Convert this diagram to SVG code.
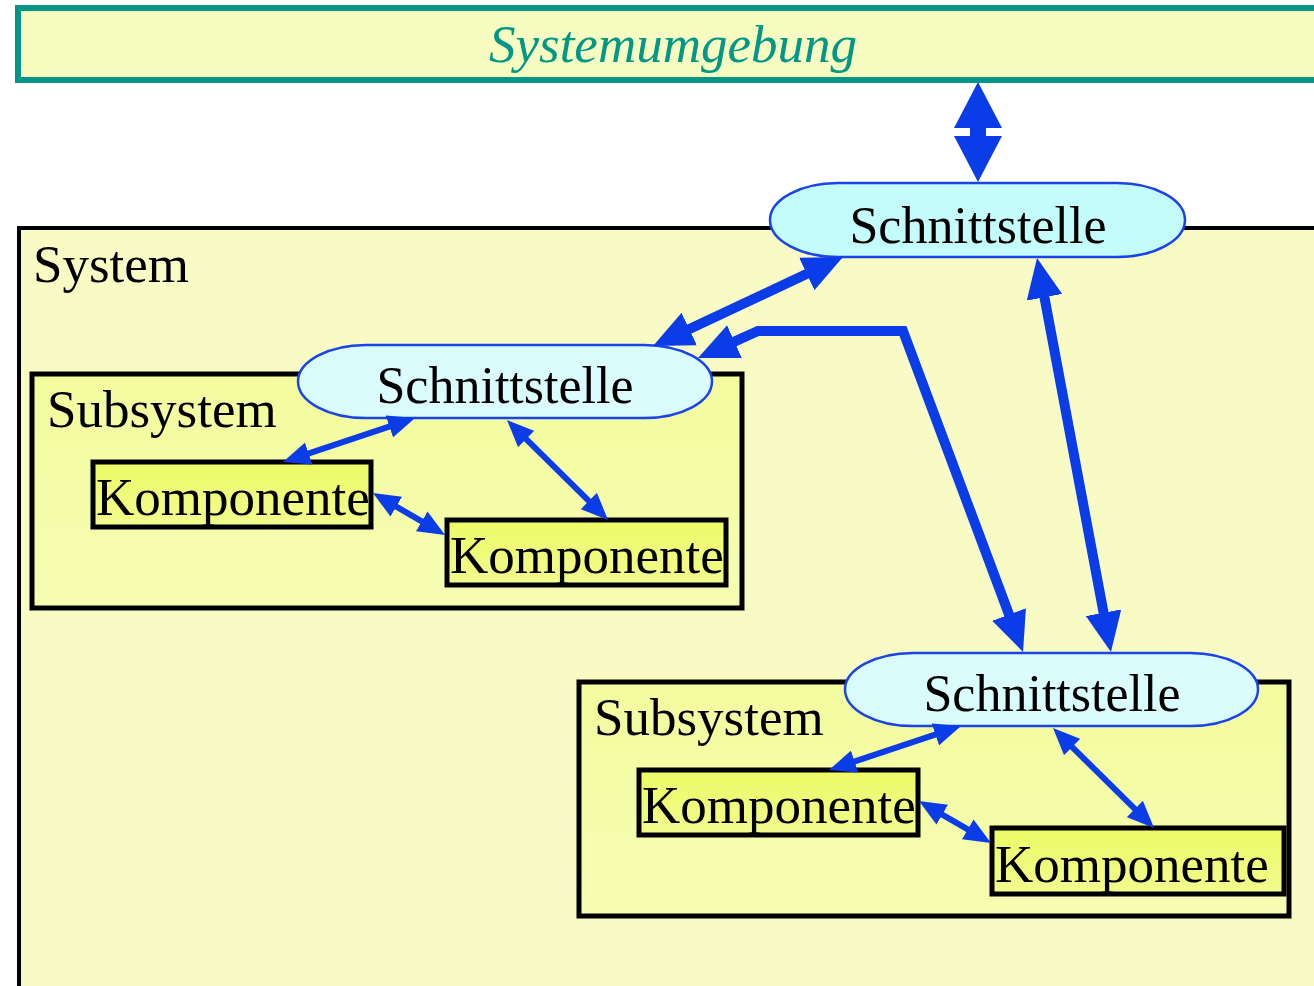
<svg xmlns="http://www.w3.org/2000/svg" width="1314" height="986" viewBox="0 0 1314 986">
<style>
.lbl{font-family:"Liberation Serif","Times New Roman",serif;fill:#000}
.box{stroke:#000;stroke-width:5}
.iface{stroke:#1a44e8;stroke-width:2.5}
.thick{fill:none;stroke:#0a3de8;stroke-width:10;stroke-linejoin:miter;marker-start:url(#hb);marker-end:url(#hb)}
.thin{fill:none;stroke:#0a3de8;stroke-width:6;marker-start:url(#hs);marker-end:url(#hs)}
</style>
<defs>
<marker id="hb" markerUnits="userSpaceOnUse" markerWidth="40" markerHeight="36" refX="5" refY="18" orient="auto-start-reverse" viewBox="0 0 40 36"><path d="M0,0 L40,18 L0,36 z" fill="#0a3de8"/></marker>
<marker id="hs" markerUnits="userSpaceOnUse" markerWidth="27" markerHeight="23" refX="6" refY="11.5" orient="auto-start-reverse" viewBox="0 0 27 23"><path d="M0,0 L27,11.5 L0,23 z" fill="#0a3de8"/></marker>
<linearGradient id="kg" x1="0" y1="0" x2="0" y2="1"><stop offset="0" stop-color="#ecfb66"/><stop offset="1" stop-color="#f2fb8e"/></linearGradient>
<linearGradient id="sg" x1="0" y1="0" x2="0" y2="1"><stop offset="0" stop-color="#f3fc9e"/><stop offset="1" stop-color="#f6fcb2"/></linearGradient>
</defs>
<rect width="1314" height="986" fill="#fff"/>
<g id="systemumgebung">
<rect x="18" y="8" width="1400" height="72" fill="#f7fcc0" stroke="#009688" stroke-width="6"/>
<text x="673" y="62" text-anchor="middle" font-family="Liberation Serif,Times New Roman,serif" font-style="italic" font-size="53" fill="#009688">Systemumgebung</text>
</g>
<g id="system">
<rect x="19" y="228" width="1400" height="900" fill="#f8fcc4" stroke="#000" stroke-width="4"/>
<text class="lbl" x="33" y="282" font-size="53">System</text>
</g>
<g id="subsystem1">
<rect x="32" y="374" width="710" height="234" fill="url(#sg)" class="box"/>
<text class="lbl" x="47" y="427" font-size="53">Subsystem</text>
</g>
<g id="subsystem2">
<rect x="579" y="682" width="710" height="234" fill="url(#sg)" class="box"/>
<text class="lbl" x="594" y="735" font-size="53">Subsystem</text>
</g>
<g id="schnittstelle1">
<rect x="770" y="183" width="415" height="74" rx="68" ry="37" fill="#c4fcfc" class="iface"/>
<text class="lbl" x="978" y="243" font-size="52" text-anchor="middle">Schnittstelle</text>
</g>
<g id="schnittstelle2">
<rect x="298" y="345" width="414" height="73" rx="68" ry="36.5" fill="#dafcfc" class="iface"/>
<text class="lbl" x="505" y="403" font-size="52" text-anchor="middle">Schnittstelle</text>
</g>
<g id="schnittstelle3">
<rect x="845" y="653" width="413" height="73" rx="68" ry="36.5" fill="#dafcfc" class="iface"/>
<text class="lbl" x="1052" y="711" font-size="52" text-anchor="middle">Schnittstelle</text>
</g>
<g id="komponente1">
<rect x="93" y="462" width="278" height="65" fill="url(#kg)" class="box"/>
<text class="lbl" x="96" y="515" font-size="53">Komponente</text>
</g>
<g id="komponente2">
<rect x="447" y="520" width="279" height="65" fill="url(#kg)" class="box"/>
<text class="lbl" x="450" y="573" font-size="53">Komponente</text>
</g>
<g id="komponente3">
<rect x="639" y="770" width="279" height="65" fill="url(#kg)" class="box"/>
<text class="lbl" x="642" y="823" font-size="53">Komponente</text>
</g>
<g id="komponente4">
<rect x="992" y="828" width="292" height="66" fill="url(#kg)" class="box"/>
<text class="lbl" x="995" y="882" font-size="53">Komponente</text>
</g>
<g id="connectors">
<polygon points="978,82 1002,128 986,128 986,136 1002,136 978,182 954,136 970,136 970,128 954,128" fill="#0a3de8"/>
<path class="thick" d="M811.3,271.8 L684.7,331.2"/>
<path class="thick" d="M1043.5,292.4 L1104.5,617.6"/>
<path class="thick" d="M729.9,343.6 L758,331 L903,331 L1010.8,619.2"/>
<path class="thin" d="M395.1,424.6 L302.9,455.4"/>
<path class="thin" d="M521.9,434.8 L593.1,505.2"/>
<path class="thin" d="M391.1,503.6 L426.9,524.4"/>
<path class="thin" d="M941.1,732.6 L848.9,763.4"/>
<path class="thin" d="M1067.9,742.8 L1139.1,813.2"/>
<path class="thin" d="M937.1,811.6 L972.9,832.4"/>
</g>
</svg>
